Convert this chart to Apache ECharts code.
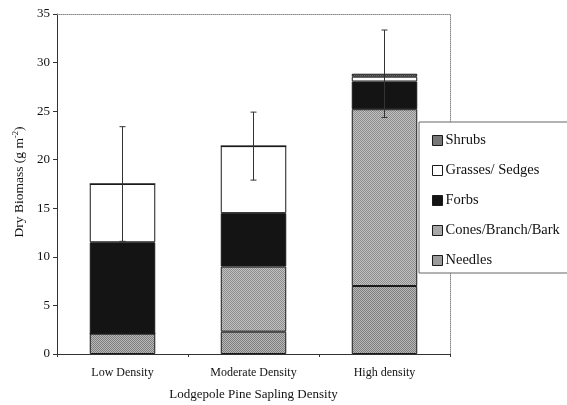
<!DOCTYPE html>
<html>
<head>
<meta charset="utf-8">
<script src="https://cdn.jsdelivr.net/npm/echarts@6/dist/echarts.min.js"></script>
<style>
  html, body { margin: 0; padding: 0; background: #fff; }
  #chart { width: 567px; height: 405px; }
</style>
</head>
<body>
<div id="chart"></div>
<script>
// Dry biomass of understory components under lodgepole pine saplings (g m-2)
var categories = ['Low Density', 'Moderate Density', 'High density'];
var needles = [2.1, 2.3, 7.0];
var cones = [0.0, 6.7, 18.2];
var forbs = [9.4, 5.5, 2.85];
var grasses = [6.0, 6.9, 0.5];
var shrubs = [0.0, 0.0, 0.3];
var errors = [5.9, 3.5, 4.5];
var yTicks = [0, 5, 10, 15, 20, 25, 30, 35];

var FONT = '"Liberation Serif", "DejaVu Serif", serif';
var INK = '#111';

// small stipple texture for the hatched segments
function stipple(dark, light) {
  var c = document.createElement('canvas');
  c.width = 2; c.height = 2;
  var g = c.getContext('2d');
  g.fillStyle = light; g.fillRect(0, 0, 2, 2);
  g.fillStyle = dark; g.fillRect(0, 0, 1, 1); g.fillRect(1, 1, 1, 1);
  return { image: c, repeat: 'repeat' };
}

var totals = categories.map(function (_, i) {
  return needles[i] + cones[i] + forbs[i] + grasses[i] + shrubs[i];
});

function barSeries(name, data, color) {
  return {
    name: name,
    type: 'bar',
    stack: 'bio',
    barWidth: '50%',
    data: data,
    itemStyle: { color: color, borderColor: '#1a1a1a', borderWidth: 1 },
    emphasis: { disabled: true }
  };
}

var chart = echarts.init(document.getElementById('chart'), null, { renderer: 'canvas' });

chart.setOption({
  animation: false,
  backgroundColor: '#fff',
  textStyle: { fontFamily: FONT, color: INK },
  grid: { left: 57, right: 117, top: 14, bottom: 51, containLabel: false, outerBoundsMode: 'none' },
  // y-axis title
  graphic: [{
    type: 'text',
    x: 19,
    y: 182,
    rotation: Math.PI / 2,
    style: {
      text: 'Dry Biomass (g m{sup|-2})',
      fontFamily: FONT,
      fontSize: 13.5,
      fill: INK,
      align: 'center',
      verticalAlign: 'middle',
      rich: { sup: { fontFamily: FONT, fontSize: 8.5, fill: INK, verticalAlign: 'top', padding: [0, 0, 7, 0] } }
    }
  }],
  legend: {
    orient: 'vertical',
    left: 419,
    top: 122,
    data: ['Shrubs', 'Grasses/ Sedges', 'Forbs', 'Cones/Branch/Bark', 'Needles'],
    backgroundColor: '#fff',
    borderColor: '#666',
    borderWidth: 1,
    padding: [11, 14, 5, 13],
    itemGap: 15,
    itemWidth: 10,
    itemHeight: 10,
    icon: 'rect',
    textStyle: { fontFamily: FONT, fontSize: 14.5, color: INK, padding: [0, 0, 0, -2] },
    itemStyle: { borderColor: '#1a1a1a', borderWidth: 1 }
  },
  xAxis: [{
    type: 'category',
    data: categories,
    axisLine: { lineStyle: { color: '#333', width: 1 } },
    axisTick: { show: true, length: 3, lineStyle: { color: '#333' } },
    axisLabel: { fontFamily: FONT, fontSize: 12, color: INK, margin: 13 },
    name: 'Lodgepole Pine Sapling Density',
    nameLocation: 'middle',
    nameGap: 34,
    nameTextStyle: { fontFamily: FONT, fontSize: 13, color: INK }
  }, {
    type: 'category',
    position: 'top',
    data: categories,
    axisLine: { show: true, onZero: false, lineStyle: { color: '#888', type: 'dotted' } },
    axisTick: { show: false },
    axisLabel: { show: false }
  }],
  yAxis: [{
    type: 'value',
    min: 0,
    max: 35,
    interval: 5,
    axisLine: { show: true, lineStyle: { color: '#333' } },
    axisTick: { show: true, length: 4, lineStyle: { color: '#333' } },
    splitLine: { show: false },
    axisLabel: {
      fontFamily: FONT, fontSize: 13, color: INK, margin: 7,
      formatter: function (v) { return yTicks.indexOf(v) >= 0 ? String(v) : ''; }
    }
  }, {
    type: 'value',
    position: 'right',
    min: 0,
    max: 35,
    interval: 5,
    axisLine: { show: true, onZero: false, lineStyle: { color: '#888', type: 'dotted' } },
    axisTick: { show: false },
    axisLabel: { show: false },
    splitLine: { show: false }
  }],
  series: [
    barSeries('Needles', needles, stipple('#7e7e7e', '#b8b8b8')),
    barSeries('Cones/Branch/Bark', cones, stipple('#8c8c8c', '#c2c2c2')),
    barSeries('Forbs', forbs, '#141414'),
    barSeries('Grasses/ Sedges', grasses, '#ffffff'),
    barSeries('Shrubs', shrubs, stipple('#555', '#999')),
    {
      name: 'error',
      type: 'custom',
      z: 10,
      data: totals.map(function (t, i) { return [i, t - errors[i], t + errors[i]]; }),
      renderItem: function (params, api) {
        var lo = api.coord([api.value(0), api.value(1)]);
        var hi = api.coord([api.value(0), api.value(2)]);
        var cap = 3;
        var st = { stroke: '#333', lineWidth: 1 };
        return {
          type: 'group',
          children: [
            { type: 'line', shape: { x1: lo[0], y1: lo[1], x2: hi[0], y2: hi[1] }, style: st },
            { type: 'line', shape: { x1: hi[0] - cap, y1: hi[1], x2: hi[0] + cap, y2: hi[1] }, style: st },
            { type: 'line', shape: { x1: lo[0] - cap, y1: lo[1], x2: lo[0] + cap, y2: lo[1] }, style: st }
          ]
        };
      },
      encode: { x: 0, y: [1, 2] },
      silent: true
    }
  ]
});
</script>
</body>
</html>
